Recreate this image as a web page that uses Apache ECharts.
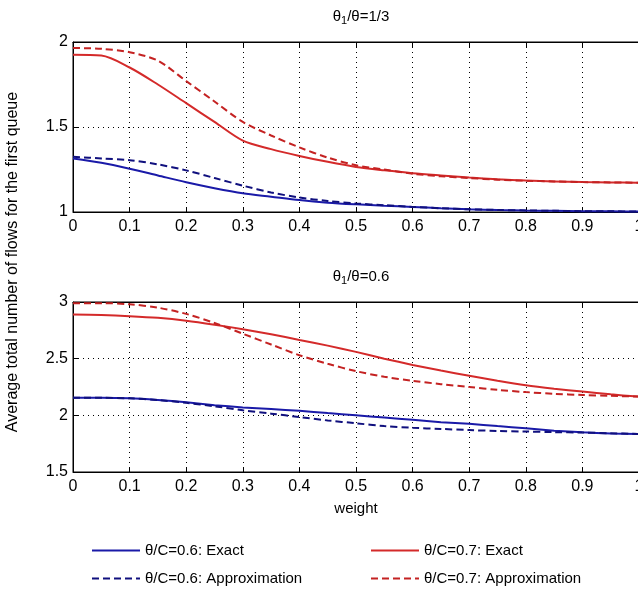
<!DOCTYPE html>
<html>
<head>
<meta charset="utf-8">
<script src="https://cdn.jsdelivr.net/npm/echarts@6/dist/echarts.min.js"></script>
<style>
  html, body { margin: 0; padding: 0; background: #fff; }
  #chart { width: 638px; height: 589px; }
</style>
</head>
<body>
<div id="chart"></div>
<script>
// weight values (x axis)
const weights = [0, 0.05, 0.1, 0.15, 0.2, 0.25, 0.3, 0.35, 0.4, 0.45, 0.5,
  0.55, 0.6, 0.65, 0.7, 0.75, 0.8, 0.85, 0.9, 0.95, 1];

// top panel: theta1/theta = 1/3
const topBlueExact = [1.315, 1.29, 1.255, 1.215, 1.175, 1.14, 1.11, 1.09, 1.07, 1.055, 1.045,
  1.037, 1.03, 1.022, 1.016, 1.012, 1.009, 1.007, 1.005, 1.004, 1.003];
const topBlueApprox = [1.325, 1.315, 1.305, 1.28, 1.245, 1.2, 1.155, 1.115, 1.085, 1.065, 1.05,
  1.04, 1.03, 1.022, 1.016, 1.012, 1.009, 1.007, 1.005, 1.004, 1.003];
const topRedExact = [1.925, 1.92, 1.85, 1.75, 1.64, 1.53, 1.42, 1.37, 1.33, 1.295, 1.265,
  1.245, 1.228, 1.215, 1.203, 1.193, 1.185, 1.18, 1.176, 1.174, 1.172];
const topRedApprox = [1.965, 1.96, 1.94, 1.89, 1.77, 1.65, 1.53, 1.45, 1.38, 1.32, 1.275,
  1.25, 1.225, 1.21, 1.2, 1.19, 1.184, 1.18, 1.176, 1.174, 1.172];

// bottom panel: theta1/theta = 0.6
const botBlueExact = [2.155, 2.155, 2.15, 2.135, 2.115, 2.09, 2.07, 2.055, 2.04, 2.02, 2.0,
  1.98, 1.96, 1.94, 1.925, 1.905, 1.885, 1.865, 1.85, 1.84, 1.835];
const botBlueApprox = [2.155, 2.155, 2.15, 2.135, 2.11, 2.08, 2.045, 2.015, 1.985, 1.955, 1.93,
  1.905, 1.89, 1.88, 1.87, 1.862, 1.857, 1.852, 1.848, 1.842, 1.835];
const botRedExact = [2.89, 2.885, 2.875, 2.86, 2.835, 2.8, 2.76, 2.715, 2.665, 2.615, 2.56,
  2.5, 2.445, 2.395, 2.35, 2.305, 2.265, 2.235, 2.21, 2.185, 2.165];
const botRedApprox = [2.99, 2.99, 2.98, 2.95, 2.895, 2.815, 2.72, 2.625, 2.53, 2.455, 2.39,
  2.34, 2.305, 2.275, 2.25, 2.225, 2.205, 2.19, 2.18, 2.172, 2.165];

const names = ['θ/C=0.6: Exact', 'θ/C=0.6: Approximation', 'θ/C=0.7: Exact', 'θ/C=0.7: Approximation'];
const titles = ['θ{s|1}/θ=1/3', 'θ{s|1}/θ=0.6'];
const yLabel = 'Average total number of flows for the first queue';

const font = '"Liberation Sans", Arial, sans-serif';
const blue = '#1a1aa8', blueDark = '#10107e', red = '#d42a2a', redDark = '#c42222';

function pairs(ys) { return weights.map((w, i) => [w, ys[i]]); }

function xAxes(gi) {
  const base = {
    type: 'value', gridIndex: gi, min: 0, max: 1, interval: 0.1,
    axisLine: { show: true, lineStyle: { color: '#000', width: 1 } },
    axisTick: { show: true, inside: true, length: 5, lineStyle: { color: '#000' } },
    splitLine: { show: false }
  };
  return [
    Object.assign({}, base, {
      position: 'bottom',
      axisLabel: {
        color: '#000', fontFamily: font, fontSize: 16, margin: 7,
        formatter: v => String(+v.toFixed(1))
      },
      splitLine: { show: true, lineStyle: { color: '#000', type: [1, 4], width: 1 } },
      name: gi === 1 ? 'weight' : '', nameLocation: 'middle', nameGap: 29,
      nameTextStyle: { color: '#000', fontFamily: font, fontSize: 15 }
    }),
    Object.assign({}, base, { position: 'top', axisLabel: { show: false } })
  ];
}

function yAxis(gi, min, max) {
  return {
    type: 'value', gridIndex: gi, min: min, max: max, interval: 0.5,
    axisLine: { show: true, lineStyle: { color: '#000', width: 1 } },
    axisTick: { show: true, inside: true, length: 5, lineStyle: { color: '#000' } },
    axisLabel: {
      color: '#000', fontFamily: font, fontSize: 16, margin: 5,
      formatter: v => String(+v.toFixed(1))
    },
    splitLine: { show: true, lineStyle: { color: '#000', type: [1, 4], width: 1 } }
  };
}

function line(name, data, color, dashed, gi) {
  return {
    name: name, type: 'line', data: pairs(data),
    xAxisIndex: gi * 2, yAxisIndex: gi,
    showSymbol: false, symbol: 'none', smooth: 0.3,
    lineStyle: { color: color, width: 2, type: dashed ? [7, 4] : 'solid' },
    itemStyle: { color: color }
  };
}

function legend(data, left) {
  return {
    data: data, orient: 'vertical', left: left, top: 543, padding: 0,
    itemWidth: 48, itemHeight: 14, itemGap: 13,
    itemStyle: { opacity: 0 },
    textStyle: { color: '#000', fontFamily: font, fontSize: 15 }
  };
}

const chart = echarts.init(document.getElementById('chart'), null, { renderer: 'canvas' });

chart.setOption({
  backgroundColor: '#fff',
  animation: false,
  title: titles.map((t, i) => ({
    text: t, left: 356, textAlign: 'center', top: i === 0 ? 2 : 262,
    textStyle: {
      color: '#000', fontFamily: font, fontSize: 15, fontWeight: 'normal',
      rich: { s: { fontSize: 11, verticalAlign: 'bottom', padding: [8, 0, 0, 0], fontFamily: font, color: '#000' } }
    }
  })),
  grid: [
    { left: 73, top: 42, width: 566, height: 170, show: true, borderColor: '#000', borderWidth: 1, outerBoundsMode: 'none' },
    { left: 73, top: 302, width: 566, height: 170, show: true, borderColor: '#000', borderWidth: 1, outerBoundsMode: 'none' }
  ],
  xAxis: xAxes(0).concat(xAxes(1)),
  yAxis: [yAxis(0, 1, 2), yAxis(1, 1.5, 3)],
  legend: [legend([names[0], names[1]], 91), legend([names[2], names[3]], 370)],
  graphic: [{
    type: 'text', x: 13, y: 262, rotation: Math.PI / 2,
    style: {
      text: yLabel, fill: '#000', font: '16px ' + font,
      textAlign: 'center', textVerticalAlign: 'middle'
    }
  }],
  series: [
    line(names[0], topBlueExact, blue, false, 0),
    line(names[1], topBlueApprox, blueDark, true, 0),
    line(names[2], topRedExact, red, false, 0),
    line(names[3], topRedApprox, redDark, true, 0),
    line(names[0], botBlueExact, blue, false, 1),
    line(names[1], botBlueApprox, blueDark, true, 1),
    line(names[2], botRedExact, red, false, 1),
    line(names[3], botRedApprox, redDark, true, 1)
  ]
});
</script>
</body>
</html>
